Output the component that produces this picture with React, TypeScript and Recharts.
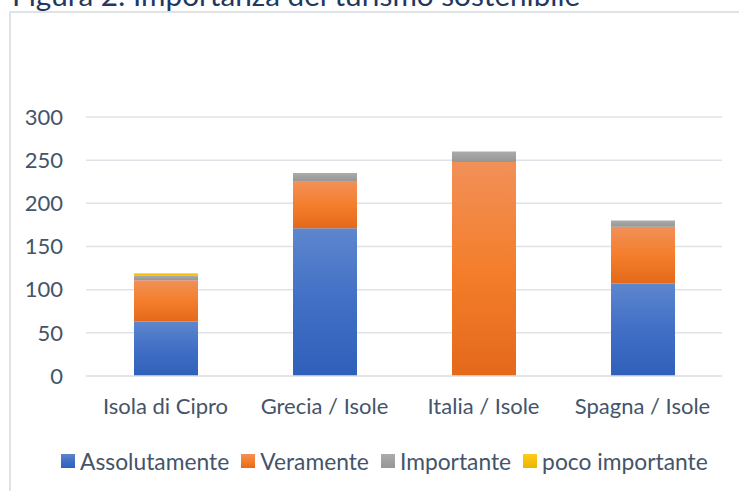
import React from "react";
import { BarChart, Bar, XAxis, YAxis, CartesianGrid } from "recharts";

const categories = ["Isola di Cipro", "Grecia / Isole", "Italia / Isole", "Spagna / Isole"];
const assolutamente = [63, 171, 0, 107];
const veramente = [48, 54, 248, 66];
const importante = [5, 10, 12, 7];
const pocoImportante = [3, 0, 0, 0];
const yTicks = [0, 50, 100, 150, 200, 250, 300];

const seriesInfo = [
  { key: "assolutamente", name: "Assolutamente", grad: "gBlue", color: "#4472C4" },
  { key: "veramente", name: "Veramente", grad: "gOrange", color: "#ED7D31" },
  { key: "importante", name: "Importante", grad: "gGray", color: "#A5A5A5" },
  { key: "poco", name: "poco importante", grad: "gYellow", color: "#FFC000" },
];

const data = categories.map((c, i) => ({
  name: c,
  assolutamente: assolutamente[i],
  veramente: veramente[i],
  importante: importante[i],
  poco: pocoImportante[i],
}));

const TEXT = "#44546a";
const FONT = "Lato, 'Open Sans', sans-serif";

export default function App() {
  return (
    <div
      style={{
        position: "absolute",
        left: 0,
        top: 0,
        width: 739,
        height: 491,
        overflow: "hidden",
        background: "#fff",
        fontFamily: FONT,
      }}
    >
      <svg style={{ position: "absolute", left: 0, top: 0 }} width={739} height={20}>
        <text x={12} y={6} fontSize={29.7} fill="#1f3864" fontFamily={FONT}>
          Figura 2: Importanza del turismo sostenibile
        </text>
      </svg>
      <div
        style={{
          position: "absolute",
          left: 9,
          top: 11,
          width: 800,
          height: 600,
          border: "2px solid #dfe3e8",
          background: "#fff",
        }}
      />
      <div style={{ position: "absolute", left: 0, top: 0 }}>
        <BarChart
          width={739}
          height={491}
          data={data}
          margin={{ top: 117, right: 17, left: 26, bottom: 85 }}
        >
          <defs>
            <linearGradient id="gBlue" x1="0" y1="0" x2="0" y2="1">
              <stop offset="0%" stopColor="#5d86cd" />
              <stop offset="50%" stopColor="#416fc6" />
              <stop offset="100%" stopColor="#2f60b9" />
            </linearGradient>
            <linearGradient id="gOrange" x1="0" y1="0" x2="0" y2="1">
              <stop offset="0%" stopColor="#f19058" />
              <stop offset="50%" stopColor="#f47e2c" />
              <stop offset="100%" stopColor="#e4691a" />
            </linearGradient>
            <linearGradient id="gGray" x1="0" y1="0" x2="0" y2="1">
              <stop offset="0%" stopColor="#ababab" />
              <stop offset="100%" stopColor="#969696" />
            </linearGradient>
            <linearGradient id="gYellow" x1="0" y1="0" x2="0" y2="1">
              <stop offset="0%" stopColor="#ffcc1a" />
              <stop offset="100%" stopColor="#eab400" />
            </linearGradient>
          </defs>
          <CartesianGrid vertical={false} stroke="#dfe3e8" strokeWidth={1.5} />
          <XAxis
            dataKey="name"
            height={30}
            tickLine={false}
            tickSize={0}
            tickMargin={22}
            axisLine={{ stroke: "#dfe3e8", strokeWidth: 1.5 }}
            tick={{ fill: TEXT, fontSize: 22, fontFamily: FONT }}
            interval={0}
          />
          <YAxis
            width={60}
            domain={[0, 300]}
            ticks={yTicks}
            tickLine={false}
            axisLine={false}
            tickSize={0}
            tickMargin={23}
            tick={{ fill: TEXT, fontSize: 22, fontFamily: FONT }}
          />
          {seriesInfo.map((s) => (
            <Bar
              key={s.key}
              dataKey={s.key}
              name={s.name}
              stackId="a"
              fill={`url(#${s.grad})`}
              barSize={64}
              isAnimationActive={false}
            />
          ))}
        </BarChart>
      </div>
      <div
        style={{
          position: "absolute",
          left: 61,
          top: 447,
          display: "flex",
          alignItems: "center",
          fontSize: 22.8,
          color: TEXT,
          whiteSpace: "nowrap",
          fontFamily: FONT,
        }}
      >
        {seriesInfo.map((s, i) => (
          <div
            key={s.key}
            style={{ display: "flex", alignItems: "center", marginRight: i < 3 ? 12 : 0 }}
          >
            <svg width={14} height={14} style={{ marginRight: 5 }}>
              <rect width={14} height={14} fill={`url(#${s.grad})`} />
            </svg>
            <span>{s.name}</span>
          </div>
        ))}
      </div>
    </div>
  );
}
